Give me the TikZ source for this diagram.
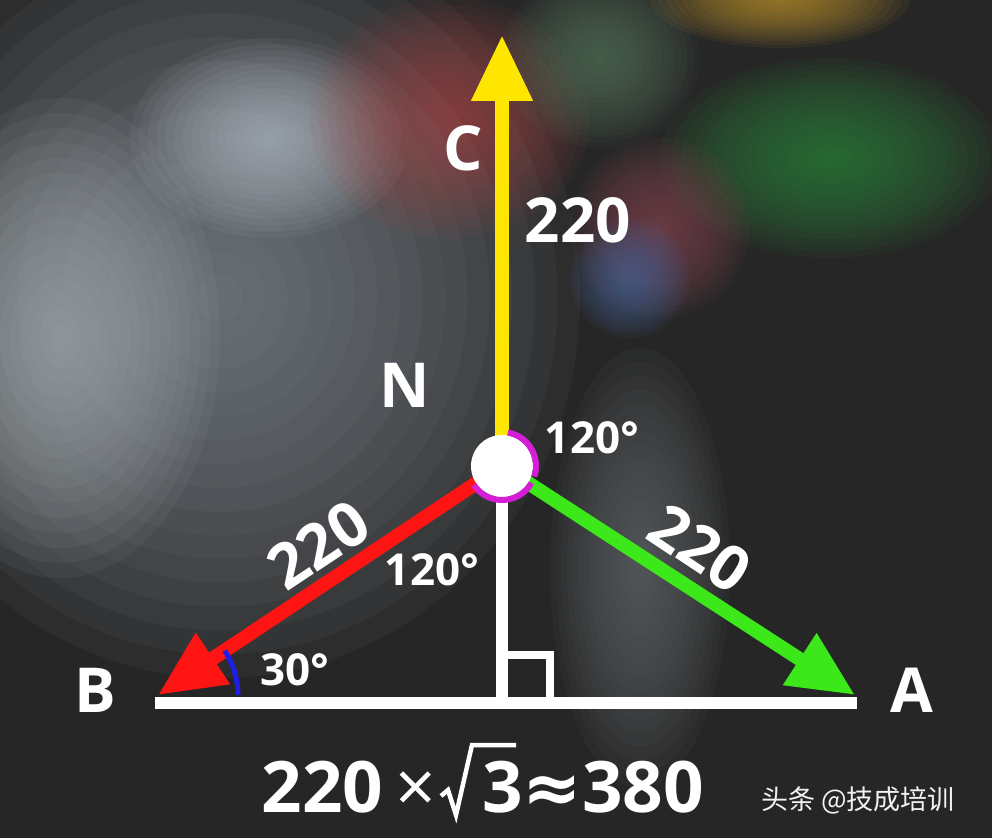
\documentclass[tikz,border=0pt]{standalone}
\usepackage{fontspec}
\setmainfont{Open Sans}
\newfontfamily\cjkfont{Noto Sans CJK SC}
\newfontfamily\symfont{DejaVu Sans}
\usetikzlibrary{arrows.meta,positioning}
\definecolor{bgdark}{HTML}{262626}
\definecolor{phaseA}{HTML}{3CE81A}
\definecolor{phaseB}{HTML}{FF1414}
\definecolor{phaseC}{HTML}{FFE600}
\definecolor{arcpink}{HTML}{D61ED6}
\definecolor{arcblue}{HTML}{1E1EE6}
\tikzset{
    phase/.style = {line width=14pt, -{Triangle[length=66pt,width=58pt]}},
    wire/.style = {draw=white, line width=12pt},
    lbl/.style = {text=white, inner sep=0pt, font=\bfseries\fontsize{62}{62}\selectfont},
    deglbl/.style = {text=white, inner sep=0pt, font=\bfseries\fontsize{44}{44}\selectfont},
    eqlbl/.style = {text=white, inner sep=0pt, font=\bfseries\fontsize{71}{71}\selectfont},
    hub/.style = {circle, fill=white, minimum size=62pt, inner sep=0pt},
}

\begin{document}
\begin{tikzpicture}[x=1pt,y=1pt]
 % blurred photo behind
 \fill[bgdark] (0,0) rectangle (992,838);
 \useasboundingbox (0,0) rectangle (992,838);
 \begin{scope}
  \clip (0,0) rectangle (992,838);
  \foreach \bx/\by/\brx/\bry/\bc in {220/540/360/380/8A949C, 60/500/160/240/AEB6BB,
      270/700/140/100/B8C2CC, 450/720/140/120/A84848, 600/780/100/90/5A7A60,
      830/680/170/100/2E8A3E, 780/840/130/50/C89A30, 660/610/90/90/8A4A55,
      630/560/60/60/4A6AA0, 640/270/90/220/6A6E72} {
   \definecolor{blobcol}{HTML}{\bc}
   \foreach \k in {1,...,16}
    \fill[blobcol, opacity=0.07] (\bx,\by) ellipse ({\brx*\k/16 pt} and {\bry*\k/16 pt});
  }
 \end{scope}

 \coordinate (O) at (502,372);
 \coordinate (C) at (502,803);
 \coordinate (B) at (158,143);
 \coordinate (A) at (855,143);
 \coordinate (F) at (502,135);
 \coordinate (L) at (155,135);
 \coordinate (R) at (857,135);

 % base and height
 \draw[wire] (L) -- (R);
 \draw[wire] (O) -- (F);
 \draw[white, line width=8pt] ([yshift=48pt]F) -| ([xshift=48pt]F);

 % phases
 \draw[phase, phaseC] (O) -- (C);
 \draw[phase, phaseB] (O) -- (B);
 \draw[phase, phaseA] (O) -- (A);

 \node[hub] (N) at (O) {};
 \draw[arcpink, line width=6pt] ([shift={(80:34pt)}]O) arc[start angle=80, end angle=-18, radius=34pt];
 \draw[arcpink, line width=6pt] ([shift={(214:34pt)}]O) arc[start angle=214, end angle=330, radius=34pt];
 \draw[arcblue, line width=5pt] ([xshift=80pt]B) arc[start angle=0, end angle=33.6, radius=80pt];

 % labels
 \node[lbl] (lC) at (463,690) {C};
 \node[lbl] (vC) at (578,618) {220};
 \node[lbl] (lN) at (405,453) {N};
 \node[deglbl] (d1) at (592,400) {120°};
 \node[lbl, rotate=33.6] (vB) at (318,293) {220};
 \node[deglbl] (d2) at (432,268) {120°};
 \node[lbl, rotate=-33.6] (vA) at (700,290) {220};
 \node[lbl] (lB) at (95,148) {B};
 \node[lbl] (lA) at (912,148) {A};
 \node[deglbl] (d3) at (295,168) {30°};

 % 220 x sqrt3 = 380
 \node[eqlbl, anchor=base east] (eqL) at (436,26) {220{\mdseries\,×}};
 \node[eqlbl, base right=46pt of eqL] (eqR) {3{\symfont ≈}380};
 \draw[white, line width=4.5pt, line join=miter] (441,42) -- (448,48) -- (456,23) -- (472,93) -- (516,93);
 \node[text=white!90!gray, font=\cjkfont\fontsize{27}{27}\selectfont] (wm) at (858,38) {头条 @技成培训};
\end{tikzpicture}
\end{document}
